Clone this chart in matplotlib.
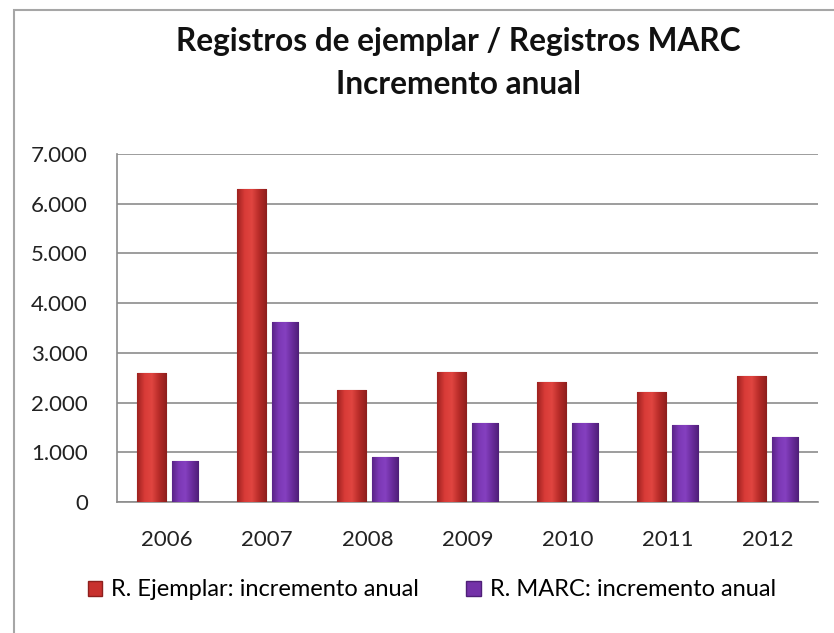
import numpy as np
import matplotlib.pyplot as plt
from matplotlib.patches import Rectangle, Patch
from matplotlib.colors import LinearSegmentedColormap
from matplotlib.ticker import FuncFormatter

# Data
years = ['2006', '2007', '2008', '2009', '2010', '2011', '2012']
ejemplar = [2600, 6300, 2250, 2610, 2410, 2210, 2530]
marc = [830, 3630, 910, 1590, 1590, 1540, 1310]

plt.rcParams['font.family'] = ['Lato', 'DejaVu Sans']

fig = plt.figure(figsize=(8.34, 6.33), dpi=100)

# outer chart frame (cut off at right/bottom like the screenshot)
fig.patches.append(Rectangle((14 / 834, -0.05), 1.1, 1 - 10 / 633 + 0.05,
                             transform=fig.transFigure, fill=False,
                             edgecolor='#a6a6a6', linewidth=1.5))

ax = fig.add_axes([117 / 834, 1 - 502 / 633, (818 - 117) / 834, (502 - 154) / 633])

x = np.arange(len(years))
red_bars = ax.bar(x - 0.16, ejemplar, 0.29, color='#c8312e', edgecolor='#8e1f1d',
                  linewidth=0.8, zorder=3)
purple_bars = ax.bar(x + 0.175, marc, 0.26, color='#7432a8', edgecolor='#4f1f78',
                     linewidth=0.8, zorder=3)

# soft cylinder-like shading across each bar
red_cmap = LinearSegmentedColormap.from_list('r', ['#9e2220', '#d83b37', '#e04540', '#b52a27', '#8e1f1d'])
purple_cmap = LinearSegmentedColormap.from_list('p', ['#5a2488', '#7c38b5', '#8540c0', '#6a2c9c', '#4f1f78'])
grad = np.linspace(0, 1, 64).reshape(1, -1)
for bars, cmap in [(red_bars, red_cmap), (purple_bars, purple_cmap)]:
    for b in bars:
        x0, y0 = b.get_x(), b.get_y()
        im = ax.imshow(grad, cmap=cmap, aspect='auto', zorder=3.5,
                       extent=(x0, x0 + b.get_width(), y0, y0 + b.get_height()))
        im.set_clip_path(b)

ax.set_xlim(-0.5, len(years) - 0.5)
ax.set_ylim(0, 7000)
ax.set_yticks(range(0, 7001, 1000))
ax.yaxis.set_major_formatter(FuncFormatter(lambda v, p: f'{int(v):,}'.replace(',', '.')))
ax.set_xticks(x)
ax.set_xticklabels(years)
ax.grid(axis='y', color='#8c8c8c', linewidth=1.2, zorder=0)
ax.tick_params(length=0, labelsize=16, colors='#222222')
ax.tick_params(axis='x', pad=20)
ax.tick_params(axis='y', pad=21)
for s in ['top', 'right']:
    ax.spines[s].set_visible(False)
for s in ['left', 'bottom']:
    ax.spines[s].set_color('#8c8c8c')
    ax.spines[s].set_linewidth(1.2)

fig.text(458 / 834, 1 - 42 / 633, 'Registros de ejemplar / Registros MARC',
         ha='center', va='center', fontsize=22.8, fontweight='bold', color='#111111')
fig.text(458 / 834, 1 - 85 / 633, 'Incremento anual',
         ha='center', va='center', fontsize=22.8, fontweight='bold', color='#111111')

handles = [Patch(facecolor='#c8312e', edgecolor='#8e1f1d'),
           Patch(facecolor='#7432a8', edgecolor='#4f1f78')]
fig.legend(handles, ['R. Ejemplar: incremento anual', 'R. MARC: incremento anual'],
           loc='center', bbox_to_anchor=(432 / 834, 1 - 590 / 633), ncol=2,
           frameon=False, fontsize=17, handlelength=0.6, handleheight=0.6,
           handletextpad=0.4, columnspacing=2.0)

fig.savefig('out.png', dpi=100)
